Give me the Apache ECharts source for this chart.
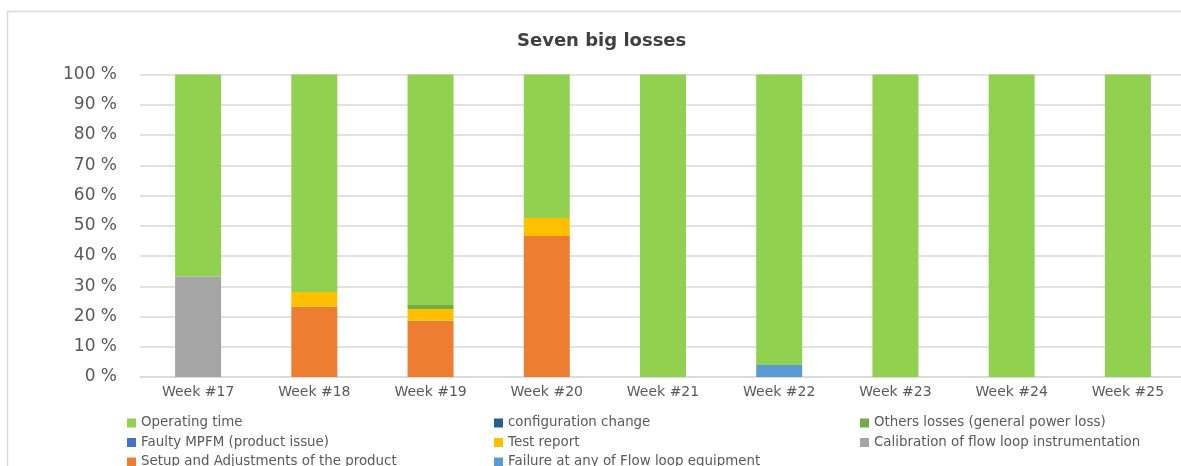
<!DOCTYPE html>
<html>
<head>
<meta charset="utf-8">
<script src="https://cdn.jsdelivr.net/npm/echarts@6/dist/echarts.min.js"></script>
<style>
html,body{margin:0;padding:0;background:#fff;overflow:hidden;}
#chart{width:1181px;height:466px;}
</style>
</head>
<body>
<div id="chart"></div>
<script>
// ---- data ----
const weeks = ['Week #17','Week #18','Week #19','Week #20','Week #21','Week #22','Week #23','Week #24','Week #25'];
const yTicks = [0,10,20,30,40,50,60,70,80,90,100];
const calibration   = [33.2, 0, 0, 0, 0, 0, 0, 0, 0];
const setupAdjust   = [0, 23.2, 18.6, 46.6, 0, 0, 0, 0, 0];
const failureLoop   = [0, 0, 0, 0, 0, 4.0, 0, 0, 0];
const faultyMPFM    = [0, 0, 0, 0, 0, 0, 0, 0, 0];
const testReport    = [0, 4.9, 3.9, 6.0, 0, 0, 0, 0, 0];
const othersLosses  = [0, 0, 1.3, 0, 0, 0, 0, 0, 0];
const configChange  = [0, 0, 0, 0, 0, 0, 0, 0, 0];
const operatingTime = [66.8, 71.9, 76.2, 47.4, 100, 100, 100, 100, 100];

const names = {
  op: 'Operating time',
  cfg: 'configuration change',
  oth: 'Others losses (general power loss)',
  mpfm: 'Faulty MPFM (product issue)',
  test: 'Test report',
  cal: 'Calibration of flow loop instrumentation',
  setup: 'Setup and Adjustments of the product',
  fail: 'Failure at any of Flow loop equipment'
};
// legend grid: columns (rows listed top to bottom)
const legendColumns = [
  [names.op, names.mpfm, names.setup],
  [names.cfg, names.test, names.fail],
  [names.oth, names.cal]
];

const FONT = 'DejaVu Sans';
const TXT = '#595959';

function bar(name, data, color) {
  return {
    name: name, type: 'bar', stack: 'total', data: data,
    barWidth: 46, itemStyle: { color: color },
    emphasis: { disabled: true }
  };
}

const colLeft = [127, 494, 860];
const rowTop = [415.5, 435, 454.5];
const legends = [];
legendColumns.forEach(function (col, ci) {
  col.forEach(function (nm, ri) {
    legends.push({
      orient: 'horizontal', icon: 'rect', itemWidth: 9, itemHeight: 9,
      left: colLeft[ci], top: rowTop[ri], padding: 0,
      data: [nm],
      textStyle: { fontFamily: FONT, fontSize: 13.4, color: TXT, lineHeight: 15 }
    });
  });
});

const chart = echarts.init(document.getElementById('chart'), null, { renderer: 'canvas' });
chart.setOption({
  animation: false,
  backgroundColor: '#fff',
  title: {
    text: 'Seven big losses', left: 512, top: 27,
    textStyle: { fontFamily: FONT, fontSize: 18, fontWeight: 'bold', color: '#404040' }
  },
  graphic: [{
    type: 'rect', silent: true,
    shape: { x: 7.5, y: 11.5, width: 1400, height: 700 },
    style: { fill: 'none', stroke: '#D9D9D9', lineWidth: 1.5 }
  }],
  legend: legends,
  grid: { left: 140, right: -5, top: 74.5, bottom: 89, containLabel: false, outerBoundsMode: 'none' },
  xAxis: {
    type: 'category', data: weeks,
    axisLine: { lineStyle: { color: '#D9D9D9', width: 1.5 } },
    axisTick: { show: false },
    axisLabel: { fontFamily: FONT, fontSize: 14, color: TXT, margin: 8 }
  },
  yAxis: {
    type: 'value', min: yTicks[0], max: yTicks[yTicks.length - 1], interval: 10,
    axisLine: { show: false }, axisTick: { show: false },
    splitLine: { lineStyle: { color: '#D9D9D9', width: 1.5 } },
    axisLabel: { fontFamily: FONT, fontSize: 17, color: TXT, margin: 23, formatter: '{value} %' }
  },
  series: [
    bar(names.cal, calibration, '#A5A5A5'),
    bar(names.setup, setupAdjust, '#ED7D31'),
    bar(names.fail, failureLoop, '#5B9BD5'),
    bar(names.mpfm, faultyMPFM, '#4472C4'),
    bar(names.test, testReport, '#FFC000'),
    bar(names.oth, othersLosses, '#70AD47'),
    bar(names.cfg, configChange, '#255E91'),
    bar(names.op, operatingTime, '#92D050')
  ]
});
</script>
</body>
</html>
